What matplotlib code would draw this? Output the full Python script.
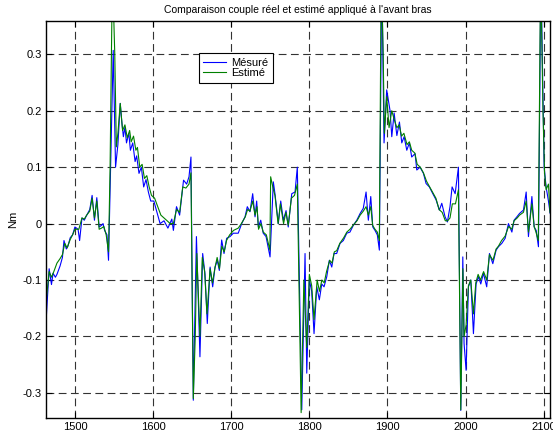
import numpy as np
import matplotlib
matplotlib.use('Agg')
import matplotlib.pyplot as plt

plt.rcParams['font.family'] = ['Liberation Sans', 'DejaVu Sans']

x_mes = [1463, 1467, 1470, 1472, 1475, 1477, 1481, 1484, 1486, 1489, 1491, 1494, 1497, 1500,
         1504, 1506, 1509, 1512, 1514, 1517, 1519, 1522, 1525, 1528, 1531, 1534, 1536, 1538,
         1541, 1543, 1549, 1552, 1555, 1558, 1560, 1562, 1564, 1566, 1569, 1571, 1574, 1577,
         1579, 1582, 1585, 1588, 1591, 1594, 1597, 1601, 1605, 1609, 1614, 1619, 1624, 1626,
         1630, 1634, 1639, 1643, 1646, 1648.5, 1651.5, 1653, 1655.5, 1660, 1663.5, 1666.5,
         1669.4, 1673, 1676.3, 1679.3, 1682.2, 1684.8, 1687.8, 1690.8, 1694.2, 1698.5, 1702.7,
         1709, 1713.4, 1717.7, 1720.6, 1724, 1727.5, 1730.5, 1732.6, 1734.7, 1737.8, 1741,
         1744.6, 1749.7, 1753.9, 1756, 1760.3, 1763.4, 1766.7, 1770.2, 1773, 1777.5, 1781.7,
         1784.6, 1790.3, 1794.5, 1796.7, 1800, 1803, 1806, 1809.5, 1812.8, 1815.9, 1818.8,
         1822.3, 1825.6, 1828.7, 1831.6, 1835, 1839.3, 1843.5, 1847.9, 1852, 1856.3, 1860.7,
         1865, 1869, 1872.6, 1875.5, 1878.6, 1881.2, 1884, 1887, 1889.6, 1892.7, 1895.6,
         1899, 1903.3, 1905.5, 1908.5, 1912, 1915.3, 1918.3, 1921.3, 1924.7, 1928, 1931,
         1935.3, 1937.5, 1941.7, 1946, 1949.4, 1953.6, 1958, 1962.2, 1966.4, 1969.5, 1973.7,
         1976.7, 1980, 1982.7, 1986.6, 1990.8, 1993.8, 1996.4, 1998, 2000.6, 2003.6, 2006.6,
         2010, 2013.4, 2016.4, 2019.4, 2022.8, 2027, 2030.5, 2034.8, 2039, 2042, 2046.3,
         2050.6, 2054.8, 2059.2, 2062, 2065.6, 2069, 2074, 2077.5, 2080.4, 2084.8, 2087.7,
         2090.3, 2093.2, 2096.3, 2100.5, 2103, 2106, 2108.2]
y_mes = [-0.175, -0.08, -0.108, -0.088, -0.095, -0.09, -0.075, -0.06, -0.03, -0.045, -0.04, -0.025, -0.02, -0.006,
         -0.01, -0.03, 0.01, 0.006, 0.012, 0.02, 0.025, 0.05, 0.006, 0.046, -0.006, -0.003, 0.0, -0.012,
         -0.02, -0.065, 0.307, 0.1, 0.14, 0.213, 0.18, 0.154, 0.171, 0.143, 0.16, 0.13, 0.143, 0.11,
         0.12, 0.089, 0.1, 0.065, 0.078, 0.056, 0.04, 0.04, 0.02, 0.0, 0.005, -0.008, 0.008, -0.012,
         0.03, 0.015, 0.077, 0.07, 0.083, 0.118, -0.313, -0.2, -0.023, -0.236, -0.053, -0.09,
         -0.177, -0.077, -0.112, -0.077, -0.065, -0.083, -0.029, -0.053, -0.026, -0.023, -0.017,
         -0.017, 0.0, 0.012, 0.03, 0.021, 0.053, 0.012, 0.04, -0.006, 0.006, -0.017,
         -0.023, -0.059, 0.074, 0.053, 0.0, 0.04, 0.006, 0.023, -0.006, 0.053, 0.056,
         0.1, -0.33, -0.053, -0.265, -0.1, -0.12, -0.195, -0.112, -0.135, -0.107, -0.112,
         -0.094, -0.065, -0.077, -0.053, -0.053, -0.035, -0.03, -0.017, -0.015, -0.003, 0.006,
         0.018, 0.027, 0.056, 0.006, 0.048, -0.006, -0.012, -0.02, -0.047, 0.45, 0.143,
         0.237, 0.2, 0.154, 0.196, 0.156, 0.18, 0.143, 0.154, 0.13, 0.143, 0.118,
         0.124, 0.095, 0.1, 0.089, 0.071, 0.065, 0.053, 0.042, 0.024, 0.036, 0.012,
         0.003, 0.03, 0.065, 0.053, 0.1, -0.331, -0.059, -0.212, -0.26, -0.112, -0.1,
         -0.195, -0.107, -0.094, -0.107, -0.088, -0.112, -0.053, -0.071, -0.047, -0.041, -0.035,
         -0.026, 0.0, -0.015, 0.006, 0.012, 0.018, 0.024, 0.056, -0.023, 0.048, -0.006,
         -0.012, -0.041, 0.45, 0.1, 0.065, 0.04, 0.018]

# estimated torque (green)
x_est = [1463, 1467, 1470, 1473, 1477, 1481, 1484, 1487, 1490, 1494, 1497, 1500, 1505, 1509,
         1512, 1515, 1519, 1522, 1525, 1528, 1531, 1534, 1537, 1540, 1543, 1545, 1548, 1551,
         1553, 1555, 1558, 1561, 1564, 1567, 1570, 1572, 1575, 1578, 1580, 1583, 1586, 1589,
         1592, 1595, 1598, 1602, 1606, 1610, 1614, 1618, 1622, 1626, 1630, 1634, 1638, 1642,
         1646, 1648.5, 1651.5, 1654, 1656, 1660, 1663, 1666, 1669, 1673, 1676, 1679, 1682,
         1685, 1688, 1691, 1694, 1698, 1703, 1709, 1713, 1718, 1721, 1724, 1727.5, 1730.5,
         1733, 1735, 1738, 1741, 1745, 1749.5, 1750.5, 1754, 1756, 1760, 1763, 1767, 1770,
         1773, 1777, 1781, 1784.6, 1789.5, 1793, 1796.7, 1800, 1803, 1806, 1810, 1813, 1816,
         1819, 1822, 1826, 1829, 1832, 1835, 1839, 1844, 1848, 1852, 1856, 1861, 1865, 1869,
         1872.6, 1875.5, 1878.6, 1881, 1884, 1887, 1889.6, 1892, 1894.5, 1896, 1899, 1902,
         1905.5, 1908.5, 1912, 1915, 1918, 1921, 1925, 1928, 1931, 1935, 1938, 1942, 1946,
         1950, 1954, 1958, 1962, 1966, 1970, 1974, 1977, 1980, 1983, 1987, 1990.8, 1993.8,
         1996.5, 1998, 2000.6, 2003.6, 2006.6, 2010, 2013, 2016, 2019, 2023, 2027, 2030.5,
         2035, 2039, 2042, 2046, 2050.6, 2055, 2059, 2062, 2066, 2069, 2074, 2077.5, 2080.4,
         2084.8, 2087.7, 2090, 2093, 2096, 2099, 2101, 2103, 2106, 2108]
y_est = [-0.14, -0.085, -0.095, -0.085, -0.07, -0.062, -0.055, -0.035, -0.043, -0.028, -0.02, -0.01, -0.01, 0.01,
         0.008, 0.015, 0.022, 0.045, 0.01, 0.04, -0.01, -0.008, -0.005, -0.02, -0.05, 0.1, 0.45, 0.3,
         0.136, 0.16, 0.213, 0.165, 0.175, 0.152, 0.165, 0.145, 0.155, 0.13, 0.135, 0.1, 0.105, 0.08,
         0.085, 0.065, 0.05, 0.045, 0.03, 0.015, 0.01, 0.005, 0.0, 0.0, 0.025, 0.02, 0.065, 0.063,
         0.07, 0.09, -0.31, -0.2, -0.053, -0.2, -0.06, -0.085, -0.16, -0.08, -0.105, -0.08, -0.06,
         -0.08, -0.04, -0.05, -0.03, -0.02, -0.012, -0.008, 0.0, 0.012, 0.025, 0.022, 0.04, 0.015,
         0.03, -0.01, 0.0, -0.015, -0.02, -0.047, 0.083, 0.06, 0.05, 0.0, 0.035, 0.0, 0.02,
         -0.003, 0.045, 0.05, 0.07, -0.335, -0.1, -0.22, -0.09, -0.11, -0.17, -0.1, -0.12, -0.1,
         -0.105, -0.085, -0.065, -0.07, -0.05, -0.048, -0.035, -0.025, -0.015, -0.01, -0.003, 0.005, 0.015, 0.022,
         0.03, 0.015, 0.03, -0.003, -0.01, -0.015, -0.03, 0.45, 0.3, 0.16, 0.225, 0.17,
         0.2, 0.185, 0.17, 0.175, 0.155, 0.16, 0.14, 0.145, 0.13, 0.125, 0.105, 0.1, 0.09,
         0.075, 0.065, 0.055, 0.045, 0.025, 0.02, 0.005, 0.005, 0.01, 0.035, 0.035, 0.06, -0.33,
         -0.08, -0.2, -0.18, -0.11, -0.1, -0.16, -0.105, -0.09, -0.1, -0.085, -0.1, -0.055,
         -0.065, -0.045, -0.04, -0.03, -0.022, -0.005, -0.01, 0.005, 0.01, 0.015, 0.02, 0.04, -0.015,
         0.035, -0.005, -0.015, -0.03, 0.45, 0.2, 0.09, 0.06, 0.07, 0.02]

x_ticks = [1500, 1600, 1700, 1800, 1900, 2000, 2100]
y_ticks = [-0.3, -0.2, -0.1, 0, 0.1, 0.2, 0.3]
y_ticklabels = ['-0.3', '-0.2', '-0.1', '0', '0.1', '0.2', '0.3']

fig = plt.figure(figsize=(5.53, 4.36), dpi=100)
ax = fig.add_axes([0.0832, 0.0406, 0.9114, 0.9112])

ax.plot(x_mes, y_mes, color='#0000ff', lw=0.8, label='Mésuré')
ax.plot(x_est, y_est, color='#008000', lw=0.8, label='Estimé')

ax.set_xlim(1463, 2108)
ax.set_ylim(-0.345, 0.359)
ax.set_xticks(x_ticks)
ax.set_yticks(y_ticks)
ax.set_yticklabels(y_ticklabels)
ax.tick_params(direction='in', length=4, width=0.8, labelsize=8, top=True, right=True, pad=3)
for s in ax.spines.values():
    s.set_linewidth(1.0)

# MATLAB style dashed grid
ax.grid(True, color='0.2', linestyle=(0, (7, 4)), linewidth=0.8)

ax.set_title("Comparaison couple réel et estimé appliqué à l'avant bras", fontsize=7.5, pad=6)
ax.set_ylabel('Nm', fontsize=8, labelpad=3)

leg = ax.legend(loc='upper left', bbox_to_anchor=(0.3036, 0.9187), borderaxespad=0,
                fontsize=8, handlelength=2.0, handletextpad=0.5, borderpad=0.4,
                labelspacing=0.05, fancybox=False, framealpha=1, edgecolor='black')
leg.get_frame().set_linewidth(0.8)

fig.savefig('out.png', dpi=100)
